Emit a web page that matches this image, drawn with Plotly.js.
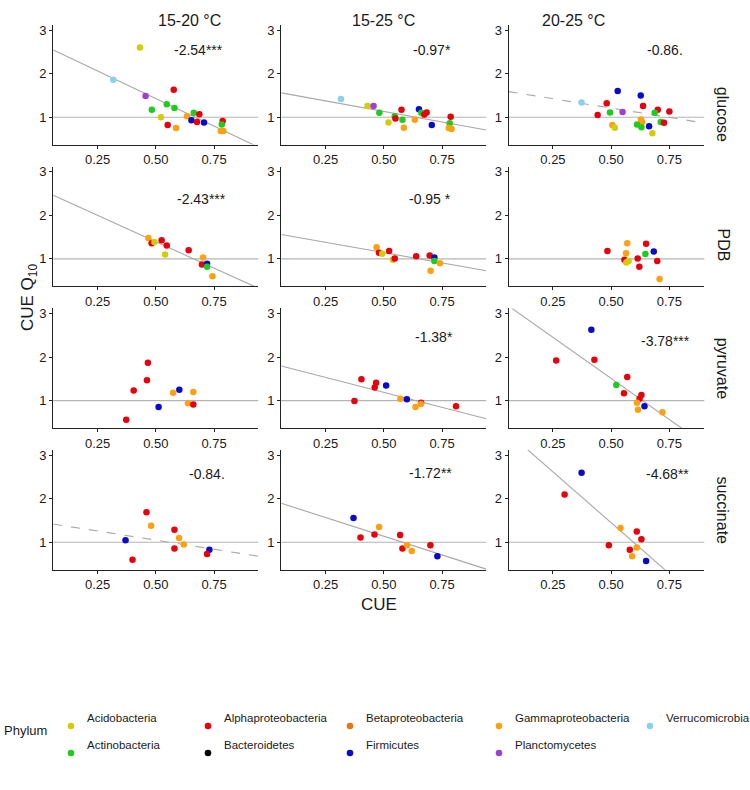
<!DOCTYPE html>
<html><head><meta charset="utf-8">
<script src="https://cdn.plot.ly/plotly-3.0.1.min.js"></script>
<style>html,body{margin:0;padding:0;background:#fff}#chart{width:750px;height:790px}</style>
</head><body><div id="chart"></div>
<script>
// ---- data (CUE, Q10, phylum) per substrate x temperature panel ----
const substrates = ["glucose", "PDB", "pyruvate", "succinate"];
const temps = ["15-20 °C", "15-25 °C", "20-25 °C"];
const phyla = ["Acidobacteria","Alphaproteobacteria","Betaproteobacteria","Gammaproteobacteria","Verrucomicrobia","Actinobacteria","Bacteroidetes","Firmicutes","Planctomycetes"];
const phylaColors = ["#D4CC0A","#E8000B","#E07814","#FFA010","#8AD2EA","#1ECC1E","#000000","#0A0ACC","#A040D0"];

const glc_15_20_cue = [0.432,0.317,0.577,0.456,0.547,0.483,0.580,0.522,0.663,0.687,0.634,0.653,0.677,0.707,0.551,0.587,0.787,0.783,0.779,0.790];
const glc_15_20_q10 = [2.60,1.86,1.63,1.49,1.30,1.17,1.21,1.00,1.10,1.07,1.02,0.93,0.89,0.88,0.82,0.75,0.91,0.83,0.68,0.68];
const glc_15_20_phy = ["Acidobacteria","Verrucomicrobia","Alphaproteobacteria","Planctomycetes","Actinobacteria","Actinobacteria","Actinobacteria","Acidobacteria","Actinobacteria","Alphaproteobacteria","Gammaproteobacteria","Firmicutes","Alphaproteobacteria","Firmicutes","Alphaproteobacteria","Gammaproteobacteria","Alphaproteobacteria","Actinobacteria","Gammaproteobacteria","Gammaproteobacteria"];

const glc_15_25_cue = [0.316,0.430,0.456,0.481,0.576,0.651,0.661,0.684,0.674,0.547,0.550,0.580,0.633,0.520,0.586,0.706,0.787,0.783,0.779,0.791];
const glc_15_25_q10 = [1.42,1.26,1.26,1.10,1.17,1.18,1.10,1.11,1.06,1.02,0.97,0.94,0.94,0.88,0.76,0.82,1.01,0.86,0.75,0.73];
const glc_15_25_phy = ["Verrucomicrobia","Acidobacteria","Planctomycetes","Actinobacteria","Alphaproteobacteria","Firmicutes","Actinobacteria","Alphaproteobacteria","Alphaproteobacteria","Actinobacteria","Alphaproteobacteria","Actinobacteria","Gammaproteobacteria","Acidobacteria","Gammaproteobacteria","Firmicutes","Alphaproteobacteria","Actinobacteria","Gammaproteobacteria","Gammaproteobacteria"];

const glc_20_25_cue = [0.373,0.528,0.627,0.481,0.637,0.442,0.495,0.549,0.700,0.687,0.750,0.628,0.633,0.611,0.630,0.663,0.713,0.727,0.505,0.516,0.677];
const glc_20_25_q10 = [1.34,1.60,1.50,1.32,1.26,1.05,1.11,1.12,1.17,1.10,1.13,0.95,0.89,0.83,0.77,0.79,0.89,0.87,0.82,0.76,0.63];
const glc_20_25_phy = ["Verrucomicrobia","Firmicutes","Firmicutes","Alphaproteobacteria","Alphaproteobacteria","Alphaproteobacteria","Actinobacteria","Planctomycetes","Alphaproteobacteria","Actinobacteria","Alphaproteobacteria","Gammaproteobacteria","Gammaproteobacteria","Actinobacteria","Actinobacteria","Firmicutes","Actinobacteria","Alphaproteobacteria","Gammaproteobacteria","Acidobacteria","Acidobacteria"];

const pdb_15_20_cue = [0.468,0.482,0.494,0.525,0.547,0.641,0.540,0.703,0.698,0.720,0.720,0.743];
const pdb_15_20_q10 = [1.48,1.36,1.39,1.43,1.31,1.20,1.10,1.03,0.87,0.89,0.82,0.60];
const pdb_15_20_phy = ["Gammaproteobacteria","Alphaproteobacteria","Acidobacteria","Alphaproteobacteria","Alphaproteobacteria","Alphaproteobacteria","Acidobacteria","Gammaproteobacteria","Alphaproteobacteria","Firmicutes","Actinobacteria","Gammaproteobacteria"];

const pdb_15_25_cue = [0.469,0.479,0.493,0.523,0.539,0.547,0.639,0.697,0.717,0.717,0.741,0.701];
const pdb_15_25_q10 = [1.27,1.14,1.12,1.18,0.98,1.01,1.06,1.08,1.03,0.95,0.90,0.73];
const pdb_15_25_phy = ["Gammaproteobacteria","Alphaproteobacteria","Acidobacteria","Alphaproteobacteria","Acidobacteria","Alphaproteobacteria","Alphaproteobacteria","Alphaproteobacteria","Firmicutes","Actinobacteria","Gammaproteobacteria","Gammaproteobacteria"];

const pdb_20_25_cue = [0.569,0.650,0.484,0.683,0.564,0.647,0.557,0.565,0.575,0.614,0.698,0.621,0.708];
const pdb_20_25_q10 = [1.36,1.35,1.18,1.17,1.13,1.11,0.98,0.92,0.95,1.01,0.95,0.82,0.54];
const pdb_20_25_phy = ["Gammaproteobacteria","Alphaproteobacteria","Alphaproteobacteria","Firmicutes","Gammaproteobacteria","Actinobacteria","Alphaproteobacteria","Acidobacteria","Acidobacteria","Alphaproteobacteria","Alphaproteobacteria","Alphaproteobacteria","Gammaproteobacteria"];

const pyr_15_20_cue = [0.466,0.462,0.405,0.601,0.574,0.661,0.638,0.661,0.512,0.373];
const pyr_15_20_q10 = [1.87,1.47,1.23,1.25,1.18,1.20,0.94,0.91,0.85,0.56];
const pyr_15_20_phy = ["Alphaproteobacteria","Alphaproteobacteria","Alphaproteobacteria","Firmicutes","Gammaproteobacteria","Gammaproteobacteria","Gammaproteobacteria","Alphaproteobacteria","Firmicutes","Alphaproteobacteria"];

const pyr_15_25_cue = [0.404,0.467,0.461,0.510,0.374,0.571,0.599,0.660,0.659,0.636,0.810];
const pyr_15_25_q10 = [1.49,1.41,1.30,1.35,0.99,1.04,1.03,0.95,0.92,0.85,0.87];
const pyr_15_25_phy = ["Alphaproteobacteria","Alphaproteobacteria","Alphaproteobacteria","Firmicutes","Alphaproteobacteria","Gammaproteobacteria","Firmicutes","Alphaproteobacteria","Gammaproteobacteria","Gammaproteobacteria","Alphaproteobacteria"];

const pyr_20_25_cue = [0.415,0.264,0.428,0.569,0.522,0.555,0.630,0.622,0.611,0.643,0.615,0.720];
const pyr_20_25_q10 = [2.63,1.92,1.94,1.54,1.36,1.17,1.13,1.04,0.95,0.87,0.79,0.73];
const pyr_20_25_phy = ["Firmicutes","Alphaproteobacteria","Alphaproteobacteria","Alphaproteobacteria","Actinobacteria","Alphaproteobacteria","Alphaproteobacteria","Alphaproteobacteria","Gammaproteobacteria","Firmicutes","Gammaproteobacteria","Gammaproteobacteria"];

const suc_15_20_cue = [0.37,0.40,0.46,0.48,0.58,0.58,0.60,0.62,0.73,0.72];
const suc_15_20_q10 = [1.05,0.60,1.69,1.38,1.29,0.86,1.10,0.95,0.83,0.73];
const suc_15_20_phy = ["Firmicutes","Alphaproteobacteria","Alphaproteobacteria","Gammaproteobacteria","Alphaproteobacteria","Alphaproteobacteria","Gammaproteobacteria","Gammaproteobacteria","Firmicutes","Alphaproteobacteria"];

const suc_15_25_cue = [0.37,0.40,0.46,0.48,0.57,0.58,0.60,0.62,0.70,0.73];
const suc_15_25_q10 = [1.56,1.11,1.18,1.35,1.17,0.86,0.93,0.80,0.93,0.68];
const suc_15_25_phy = ["Firmicutes","Alphaproteobacteria","Alphaproteobacteria","Gammaproteobacteria","Alphaproteobacteria","Alphaproteobacteria","Gammaproteobacteria","Gammaproteobacteria","Alphaproteobacteria","Firmicutes"];

const suc_20_25_cue = [0.373,0.30,0.49,0.54,0.61,0.63,0.58,0.61,0.59,0.65];
const suc_20_25_q10 = [2.60,2.10,0.93,1.33,1.25,1.07,0.83,0.88,0.68,0.57];
const suc_20_25_phy = ["Firmicutes","Alphaproteobacteria","Alphaproteobacteria","Gammaproteobacteria","Alphaproteobacteria","Alphaproteobacteria","Alphaproteobacteria","Gammaproteobacteria","Gammaproteobacteria","Firmicutes"];

// regression fits per panel (row-major), null = no line
const fitSlopes     = [-2.54, -0.97, -0.86,  -2.43, -0.95, null,  null, -1.38, -3.78,  -0.84, -1.72, -4.68];
const fitIntercepts = [ 2.70,  1.617, 1.64,  2.61,  1.62, null,  null,  1.88,  3.40,   1.47,  2.00,  3.79];
const fitDashed     = [false, false, true,   false, false, false, false, false, false, true, false, false];
const statLabels    = ["-2.54***","-0.97*","-0.86.", "-2.43***","-0.95 *","", "","-1.38*","-3.78***", "-0.84.","-1.72**","-4.68**"];
const statX         = [0.685,0.707,0.730, 0.697,0.700,0, 0,0.714,0.733, 0.718,0.700,0.744];
const statY         = [2.55,2.54,2.55, 2.38,2.37,0, 0,2.46,2.38, 2.56,2.59,2.57];

const xTickVals = [0.25, 0.50, 0.75];
const xTickText = ["0.25", "0.50", "0.75"];
const yTickVals = [1, 2, 3];

const panels = [
  [glc_15_20_cue, glc_15_20_q10, glc_15_20_phy],[glc_15_25_cue, glc_15_25_q10, glc_15_25_phy],[glc_20_25_cue, glc_20_25_q10, glc_20_25_phy],
  [pdb_15_20_cue, pdb_15_20_q10, pdb_15_20_phy],[pdb_15_25_cue, pdb_15_25_q10, pdb_15_25_phy],[pdb_20_25_cue, pdb_20_25_q10, pdb_20_25_phy],
  [pyr_15_20_cue, pyr_15_20_q10, pyr_15_20_phy],[pyr_15_25_cue, pyr_15_25_q10, pyr_15_25_phy],[pyr_20_25_cue, pyr_20_25_q10, pyr_20_25_phy],
  [suc_15_20_cue, suc_15_20_q10, suc_15_20_phy],[suc_15_25_cue, suc_15_25_q10, suc_15_25_phy],[suc_20_25_cue, suc_20_25_q10, suc_20_25_phy]
];

// ---- layout geometry (pixels) ----
const W = 750, H = 790;
const FONT = "Liberation Sans, Arial, Helvetica, sans-serif";
const colLeft = [53.3, 281.3, 508.7];
const colWidth = [205, 205, 195.6];
const xRanges = [[0.06, 0.94], [0.06, 0.94], [0.06, 0.90]];
const rowTop = [25, 166.7, 308.4, 450.1];
const rowHeight = 119.6;
const yRange = [0.37, 3.12];

const colorOf = p => phylaColors[phyla.indexOf(p)];
const traces = [];
const layout = {
  width: W, height: H, margin: {l:0, r:0, t:0, b:0},
  paper_bgcolor: "#fff", plot_bgcolor: "#fff", showlegend: false,
  font: {family: FONT, color: "#1a1a1a"},
  annotations: [], shapes: []
};

for (let r = 0; r < 4; r++) {
  for (let c = 0; c < 3; c++) {
    const i = r*3 + c, n = i + 1;
    const xa = "x" + (n === 1 ? "" : n), ya = "y" + (n === 1 ? "" : n);
    const xk = "xaxis" + (n === 1 ? "" : n), yk = "yaxis" + (n === 1 ? "" : n);
    layout[xk] = {
      domain: [colLeft[c]/W, (colLeft[c]+colWidth[c])/W], range: xRanges[c], anchor: ya,
      showline: true, linecolor: "#222", linewidth: 1.1, ticks: "outside", ticklen: 3, tickcolor: "#222",
      tickvals: xTickVals, ticktext: xTickText, showgrid: false, zeroline: false,
      tickfont: {size: 13, family: FONT, color: "#1a1a1a"}
    };
    layout[yk] = {
      domain: [1 - (rowTop[r]+rowHeight)/H, 1 - rowTop[r]/H], range: yRange, anchor: xa,
      showline: true, linecolor: "#222", linewidth: 1.1, ticks: "outside", ticklen: 3, tickcolor: "#222",
      tickvals: yTickVals, showgrid: false, zeroline: false,
      tickfont: {size: 13, family: FONT, color: "#1a1a1a"}
    };
    layout.shapes.push({type: "line", xref: xa + " domain", yref: ya, x0: 0, x1: 1, y0: 1, y1: 1,
      line: {color: "#b4b4b4", width: 1.1}, layer: "below"});
    if (fitSlopes[i] !== null) {
      const xr = xRanges[c];
      traces.push({type: "scatter", mode: "lines", xaxis: xa, yaxis: ya,
        x: [xr[0], xr[1]], y: [fitIntercepts[i] + fitSlopes[i]*xr[0], fitIntercepts[i] + fitSlopes[i]*xr[1]],
        line: {color: "#a8a8a8", width: 1.1, dash: fitDashed[i] ? "dash" : "solid"}, hoverinfo: "skip"});
    }
    const [cx, cy, cp] = panels[i];
    traces.push({type: "scatter", mode: "markers", xaxis: xa, yaxis: ya, x: cx, y: cy,
      marker: {size: 6.5, color: cp.map(colorOf), line: {width: 0}}, cliponaxis: false});
    if (statLabels[i]) {
      layout.annotations.push({xref: xa, yref: ya, x: statX[i], y: statY[i], text: statLabels[i],
        showarrow: false, font: {size: 14, family: FONT, color: "#1a1a1a"}});
    }
  }
}

for (let c = 0; c < 3; c++) {
  layout.annotations.push({xref: "paper", yref: "paper", x: (colLeft[c] + colWidth[c]/2)/W, y: 1 - 10/H,
    text: temps[c], showarrow: false, font: {size: 16, family: FONT, color: "#1a1a1a"}});
}
for (let r = 0; r < 4; r++) {
  layout.annotations.push({xref: "paper", yref: "paper", x: 733/W, y: 1 - (rowTop[r] + rowHeight/2)/H,
    text: substrates[r], textangle: 90, showarrow: false, font: {size: 16, family: FONT, color: "#1a1a1a"}});
}
layout.annotations.push({xref: "paper", yref: "paper", x: 379/W, y: 1 - 616/H, text: "CUE",
  showarrow: false, font: {size: 17, family: FONT, color: "#1a1a1a"}});
layout.annotations.push({xref: "paper", yref: "paper", x: 16/W, y: 1 - 298/H, text: "CUE Q<sub>10</sub>",
  textangle: -90, showarrow: false, font: {size: 17, family: FONT, color: "#1a1a1a"}});

// legend: row 1 = first five phyla, row 2 = remaining four
const legX = [71, 208, 350, 499, 650];
const legY = [726, 753];
layout.annotations.push({xref: "paper", yref: "paper", x: 2/W, y: 1 - 740/H, xanchor: "left",
  text: "Phylum", showarrow: false, font: {size: 13, family: FONT, color: "#1a1a1a"}});
phyla.forEach((p, k) => {
  const row = k < 5 ? 0 : 1, col = k < 5 ? k : k - 5;
  const px = legX[col], py = legY[row];
  layout.shapes.push({type: "circle", xref: "paper", yref: "paper", xsizemode: "pixel", ysizemode: "pixel",
    xanchor: px/W, yanchor: 1 - py/H, x0: -3.3, x1: 3.3, y0: -3.3, y1: 3.3,
    fillcolor: phylaColors[k], line: {width: 0}});
  layout.annotations.push({xref: "paper", yref: "paper", x: (px + 14)/W, y: 1 - py/H, xanchor: "left",
    text: p, showarrow: false, font: {size: 11.5, family: FONT, color: "#1a1a1a"}});
});

Plotly.newPlot("chart", traces, layout, {staticPlot: true, displayModeBar: false});
</script>
</body></html>
